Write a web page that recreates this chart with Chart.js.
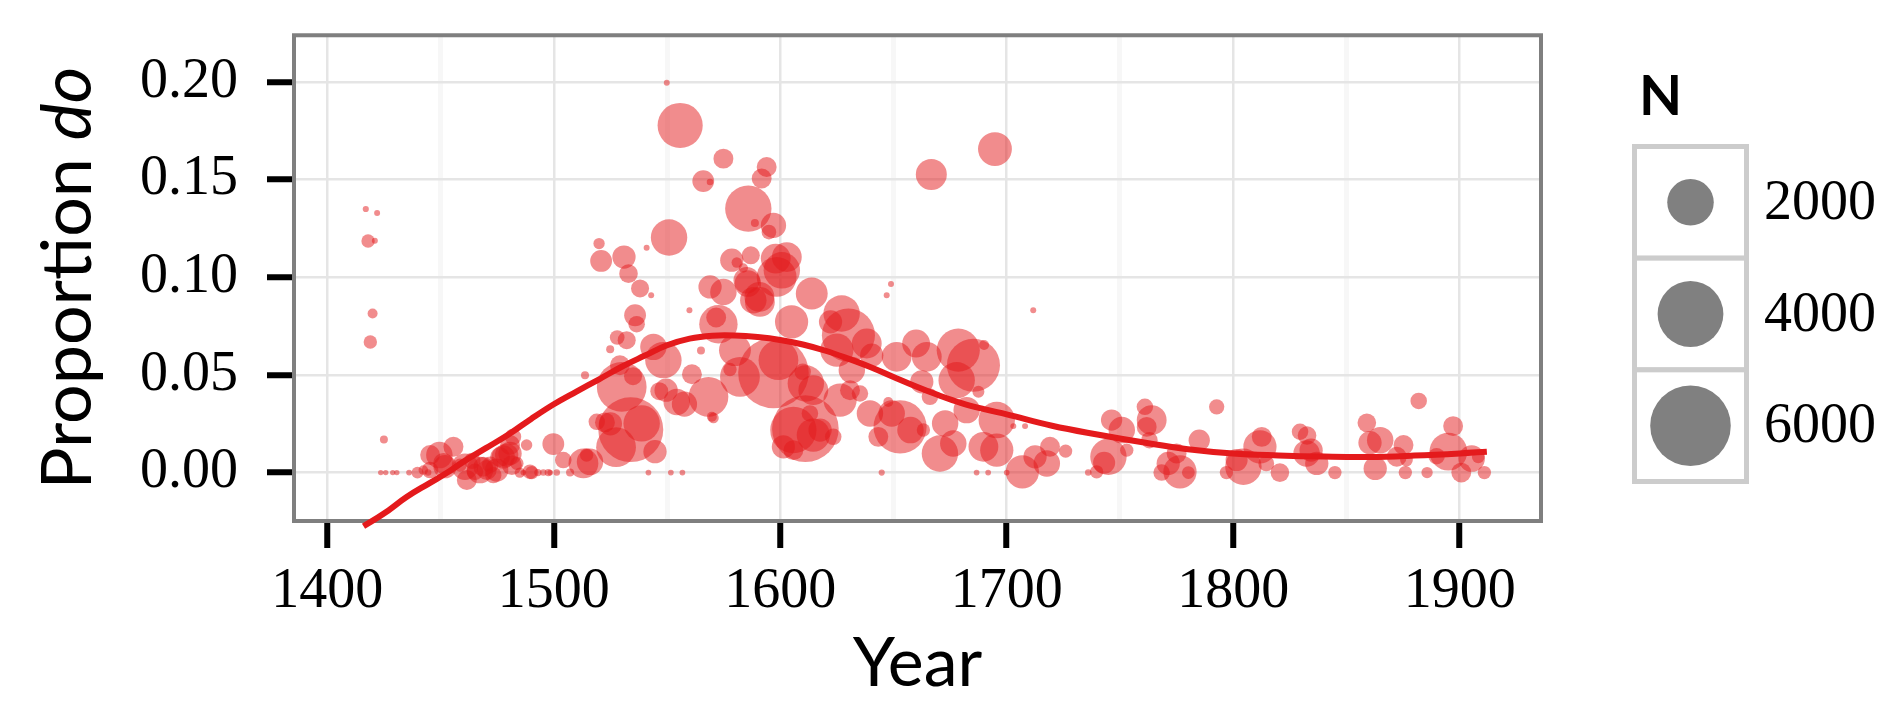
<!DOCTYPE html>
<html>
<head>
<meta charset="utf-8">
<script src="https://cdn.jsdelivr.net/npm/chart.js@4.4.1/dist/chart.umd.min.js"></script>
<style>
  html, body { margin: 0; padding: 0; background: #fff; }
  #wrap { width: 1887px; height: 701px; }
</style>
</head>
<body>
<div id="wrap"><canvas id="chart" width="1887" height="701"></canvas></div>
<script>
// --- data ---
// one entry per text: year, proportion of "do", number of tokens (N)
const years = [
  1417, 1422, 1418, 1421, 1420, 1419, 1425, 1423.6, 1425.8, 1428.9, 1430.7, 1436.1, 1439.8, 1442.4, 1444.5,
  1445.4, 1445.4, 1449.5, 1451.3, 1452, 1455.7, 1458.6, 1460.8, 1461.6, 1464, 1465.2, 1467.4, 1468.9, 1470.4,
  1472, 1473.3, 1474.8, 1476.3, 1477.7, 1479.2, 1480.7, 1480.7, 1481.5, 1482, 1483.7, 1485, 1486.6, 1488,
  1489.5, 1490.3, 1493, 1495.4, 1497.6, 1498.4, 1499.8, 1501.3, 1504.2, 1507.2, 1513.1, 1514.5, 1516,
  1513.8, 1519, 1522.6, 1520, 1520.9, 1524.9, 1527.5, 1525, 1528, 1529.2, 1530, 1531, 1532.2, 1533, 1534, 1535,
  1535.9, 1536.6, 1538.1, 1538.8, 1541, 1541.8, 1543, 1544, 1544.7, 1546.6, 1548.4, 1549.6, 1549.9, 1550.9,
  1551.7, 1554.3, 1555.8, 1556.8, 1557.7, 1559.9, 1561, 1565, 1566, 1568.3, 1569, 1569, 1569.8, 1570.5, 1571.7,
  1572.7, 1574.9, 1574.9, 1577.8, 1578.6, 1580, 1580.8, 1582.2, 1583.7, 1585.2, 1585.7, 1585.9, 1587, 1588.1,
  1588.8, 1590.8, 1591, 1591.8, 1594, 1595, 1597, 1597, 1598, 1598.4, 1599.2, 1600.7, 1601.4, 1602.9, 1605,
  1605.8, 1605.8, 1609.9, 1611.1, 1611.3, 1613.1, 1613.9, 1614.6, 1614.6, 1617.6, 1622.2, 1623.4, 1625, 1626.4,
  1627.1, 1630.1, 1630.8, 1631.6, 1635.2, 1638.2, 1639.6, 1640.4, 1643.3, 1644.8, 1647, 1647.7, 1648.9, 1649.2,
  1651.4, 1652.9, 1657.5, 1660, 1662.5, 1663.2, 1664.7, 1666.1, 1666.7, 1670.5, 1672.8, 1676.4, 1677.9, 1678.6,
  1682.3, 1685.3, 1686.7, 1687.5, 1689.7, 1690, 1691.8, 1694.8, 1695.6, 1695.6, 1700, 1702.9, 1706.9, 1708.1,
  1711.7, 1712.5, 1717.7, 1719.1, 1726, 1736, 1739.7, 1743, 1744.9, 1746.3, 1750.8, 1753, 1761, 1761.8, 1763,
  1764, 1768.4, 1771.3, 1775, 1776.5, 1780.2, 1785, 1792.7, 1797, 1801.5, 1804.5, 1811.8, 1812.6, 1814.6,
  1820.6, 1829.5, 1832.4, 1832.6, 1834.4, 1836.9, 1844.9, 1859, 1860.4, 1862.7, 1864.9, 1872.2, 1875.2, 1876,
  1876.5, 1881.9, 1885.6, 1889.8, 1895, 1897.1, 1900.7, 1905.3, 1908.2, 1910.9
];
const props = [
  0.135, 0.133, 0.1186, 0.1188, 0.0815, 0.0669, 0.017, 0, 0, 0, 0, 0, 0, 0.0013, 0,
  0.009, 0.0013, 0.009, 0.0047, 0.003, 0.0132, 0.0038, 0.003, -0.0038, 0.006, 0.0004, 0.0013, 0.003, 0.0013,
  0.004, -0.0013, 0.0013, 0.008, 0.008, 0.009, 0.0141, 0.0098, 0.0038, 0.0183, 0.0047, 0, 0, 0.0141,
  0.0004, 0, 0, 0, 0, 0, 0.0146, 0, 0.0064, 0, 0.0047, 0.009, 0.0055,
  0.0499, 0.026, 0.0257, 0.1173, 0.1084, 0.0632, 0.013, 0.025, 0.0692, 0.055, 0.0439, 0.1104, 0.0678, 0.1019, 0.022, 0.0494,
  0.0806, 0.076, 0.0943, 0.0252, 0.1152, 0, 0.0908, 0.0644, 0.0107, 0.0417, 0.0576, 0.0422, 0.1997, 0.1204,
  0, 0.0362, 0.1778, 0, 0.0351, 0.0832, 0.0504, 0.0625, 0.1493, 0.0388, 0.1488, 0.0951, 0.0286, 0.028, 0.0794,
  0.076, 0.1608, 0.0925, 0.0528, 0.1088, 0.0627, 0.1076, 0.049, 0.1048, 0.0985, 0.0968, 0.1352, 0.1113, 0.0883,
  0.1278, 0.09, 0.0874, 0.1506, 0.1565, 0.1232, 0.051, 0.1266, 0.1096, 0.1002, 0.0576, 0.1036, 0.0132, 0.1104, 0.0772,
  0.0218, 0.0115, 0.0516, 0.0225, 0.0456, 0.0303, 0.0917, 0.0422, 0.0192, 0.0218, 0.0772, 0.0183, 0.0627, 0.0371,
  0.0815, 0.0704, 0.0422, 0.0525, 0.0405, 0.0661, 0.0303, 0.0601, 0.0183, 0, 0.0908, 0.0362, 0.0966, 0.0303,
  0.0593, 0.0234, 0.0218, 0.0661, 0.0465, 0.0218, 0.0593, 0.0388, 0.1527, 0.0098, 0.0252, 0.0149, 0.0473, 0.0627,
  0.032, 0.055, 0, 0.0414, 0.0132, 0.0653, 0, 0.1657, 0.0269, 0.0115, 0, 0.0238, 0.0004, 0.0238,
  0.0832, 0.0081, 0.0047, 0.0132, 0.011, 0, 0.0004, 0.005, 0.0081, 0.0269, 0.0218, 0.0115, 0.0337, 0.0234, 0.0166,
  0.0269, 0, 0.0047, 0.0098, 0.0004, 0, 0.0166, 0.0337, 0, 0.0064, 0.003, 0.0132, 0.0183, 0.0047,
  0, 0.0209, 0.0098, 0.019, 0.0115, 0.0047, 0, 0.0255, 0.0153, 0.0021, 0.0166, 0.0081, 0.0141, 0,
  0.0064, 0.0367, 0, 0.0084, 0.0107, 0.0238, 0, 0.0072, 0.0081, 0
];
const counts = [
  35, 33, 165, 33, 92, 165, 59, 27, 27, 27, 27, 30, 130, 85, 40,
  366, 252, 650, 400, 500, 370, 160, 650, 370, 250, 252, 650, 366, 366,
  250, 250, 500, 366, 500, 500, 366, 500, 366, 250, 164, 100, 30, 120,
  200, 164, 50, 40, 50, 30, 440, 40, 252, 60, 823, 165, 647,
  59, 252, 366, 118, 440, 59, 1462, 500, 200, 366, 2285, 500, 300, 320, 3900, 300,
  440, 252, 300, 1225, 33, 30, 33, 647, 500, 300, 1225, 500, 33, 1225,
  30, 647, 1884, 30, 590, 33, 366, 59, 440, 1462, 40, 500, 92, 105, 366,
  1360, 366, 647, 164, 500, 940, 100, 1462, 80, 647, 647, 1985, 300, 647,
  59, 823, 823, 366, 366, 200, 4600, 590, 823, 1462, 1462, 1225, 500, 823, 1020,
  1985, 366, 252, 4100, 1225, 252, 940, 823, 1020, 500, 500, 252, 1020, 1020,
  1225, 2606, 366, 647, 250, 823, 647, 500, 366, 35, 33, 92, 33, 647,
  823, 2606, 647, 720, 500, 164, 823, 252, 890, 1225, 647, 647, 1225, 1720,
  647, 2606, 30, 132, 823, 92, 30, 1060, 1225, 1020, 30, 33, 1020, 33,
  33, 500, 647, 366, 164, 40, 164, 450, 1225, 420, 647, 164, 252, 366, 252,
  823, 252, 500, 366, 1020, 150, 420, 216, 164, 450, 1225, 1020, 366, 230,
  320, 252, 647, 320, 500, 500, 164, 320, 500, 500, 647, 366, 366, 164,
  150, 252, 118, 252, 1320, 366, 366, 647, 150, 164
];

// loess curve as drawn in the picture
const smoothYears = [1416, 1425, 1435, 1445, 1453, 1460, 1470, 1480, 1490, 1500, 1510, 1520, 1530, 1540, 1550,
  1560, 1570, 1580, 1590, 1600, 1610, 1620, 1630, 1640, 1650, 1660, 1670, 1680, 1690, 1700, 1720, 1740, 1760,
  1780, 1800, 1820, 1840, 1860, 1880, 1900, 1912];
const smoothProps = [-0.0275, -0.021, -0.0125, -0.0055, 0, 0.0055, 0.0125, 0.0195, 0.0275, 0.035, 0.0415, 0.0478,
  0.0542, 0.0598, 0.0652, 0.0686, 0.0701, 0.0702, 0.0694, 0.0679, 0.0656, 0.0624, 0.0584, 0.0540, 0.0490, 0.0441,
  0.0396, 0.0356, 0.0325, 0.0298, 0.024, 0.0195, 0.0155, 0.012, 0.0098, 0.0088, 0.0082, 0.008, 0.0087, 0.0098, 0.0107];

// axes
const xMajor = [1400, 1500, 1600, 1700, 1800, 1900];
const xMinor = [1450, 1550, 1650, 1750, 1850];
const yMajor = [0, 0.05, 0.10, 0.15, 0.20];
const yMinor = [0.025, 0.075, 0.125, 0.175];
const legendN = [2000, 4000, 6000];

// size scale (area ~ N)
const sizeK = 0.52;
function radiusFor(n) { return sizeK * Math.sqrt(n); }

const RED = '#e41a1c';
const SERIF = "'Liberation Serif', 'DejaVu Serif', serif";
const SANS = "Lato, 'Open Sans', sans-serif";

function isMajor(list, v) { return list.some(m => Math.abs(m - v) < 1e-9); }

// panel border drawn like ggplot theme_bw
const panelBorder = {
  id: 'panelBorder',
  beforeDatasetsDraw(chart) {
    const { ctx, chartArea: a } = chart;
    ctx.save();
    ctx.strokeStyle = '#7f7f7f';
    ctx.lineWidth = 4;
    ctx.strokeRect(a.left, a.top, a.right - a.left, a.bottom - a.top);
    ctx.restore();
  }
};

// axis titles (y title has italic "do")
const axisTitles = {
  id: 'axisTitles',
  afterDraw(chart) {
    const { ctx, chartArea: a } = chart;
    ctx.save();
    ctx.fillStyle = '#000';
    ctx.textBaseline = 'alphabetic';
    ctx.textAlign = 'center';
    ctx.font = '68px ' + SANS;
    ctx.fillText('Year', (a.left + a.right) / 2, 686);

    const part1 = 'Proportion ';
    const part2 = 'do';
    const f1 = '70px ' + SANS;
    const f2 = 'italic 70px ' + SANS;
    ctx.font = f1;
    const w1 = ctx.measureText(part1).width;
    ctx.font = f2;
    const w2 = ctx.measureText(part2).width;
    ctx.translate(91, (a.top + a.bottom) / 2);
    ctx.rotate(-Math.PI / 2);
    ctx.textAlign = 'left';
    const start = -(w1 + w2) / 2;
    ctx.font = f1;
    ctx.fillText(part1, start, 0);
    ctx.font = f2;
    ctx.fillText(part2, start + w1, 0);
    ctx.restore();
  }
};

// size legend "N"
const sizeLegend = {
  id: 'sizeLegend',
  afterDraw(chart) {
    const ctx = chart.ctx;
    ctx.save();
    ctx.fillStyle = '#000';
    ctx.font = 'bold 56px ' + SANS;
    ctx.textAlign = 'left';
    ctx.textBaseline = 'alphabetic';
    ctx.fillText('N', 1639, 115);

    const left = 1634.5, top = 146.5, w = 112, h = (340 - 5) / 3;
    legendN.forEach((n, i) => {
      const y0 = top + i * h;
      ctx.fillStyle = '#fff';
      ctx.fillRect(left, y0, w, h);
      ctx.strokeStyle = '#cccccc';
      ctx.lineWidth = 5;
      ctx.strokeRect(left, y0, w, h);
      ctx.fillStyle = '#808080';
      ctx.beginPath();
      ctx.arc(left + w / 2, y0 + h / 2, radiusFor(n), 0, Math.PI * 2);
      ctx.fill();
      ctx.fillStyle = '#000';
      ctx.font = '56px ' + SERIF;
      ctx.textBaseline = 'middle';
      ctx.fillText(String(n), 1764, y0 + h / 2 + 2);
    });
    ctx.restore();
  }
};

const points = years.map((x, i) => ({ x: x, y: props[i], r: radiusFor(counts[i]) }));
const curve = smoothYears.map((x, i) => ({ x: x, y: smoothProps[i] }));

new Chart(document.getElementById('chart'), {
  type: 'bubble',
  data: {
    datasets: [
      {
        type: 'line',
        label: 'loess',
        data: curve,
        borderColor: RED,
        borderWidth: 6,
        pointRadius: 0,
        fill: false,
        tension: 0.4,
        clip: false,
        order: 0
      },
      {
        label: 'texts',
        data: points,
        backgroundColor: 'rgba(228, 26, 28, 0.5)',
        borderWidth: 0,
        hoverRadius: 0,
        order: 1
      }
    ]
  },
  options: {
    responsive: false,
    devicePixelRatio: 1,
    animation: false,
    layout: { padding: { left: 0, top: 35, right: 346, bottom: 0 } },
    plugins: { legend: { display: false }, tooltip: { enabled: false } },
    scales: {
      x: {
        type: 'linear',
        min: 1385.3,
        max: 1935.9,
        afterBuildTicks: s => { s.ticks = xMajor.concat(xMinor).sort((p, q) => p - q).map(v => ({ value: v })); },
        afterFit: s => { s.height = 180; s.paddingLeft = 0; s.paddingRight = 0; },
        border: { display: false },
        grid: {
          color: c => (c.tick && isMajor(xMajor, c.tick.value)) ? '#e5e5e5' : '#f7f7f7',
          lineWidth: c => (c.tick && isMajor(xMajor, c.tick.value)) ? 2.5 : 5,
          tickColor: c => (c.tick && isMajor(xMajor, c.tick.value)) ? '#000' : 'rgba(0,0,0,0)',
          tickWidth: 6,
          tickLength: 27,
          drawTicks: true
        },
        ticks: {
          autoSkip: false,
          maxRotation: 0,
          padding: 11,
          color: '#000',
          font: { family: SERIF, size: 56 },
          callback: v => isMajor(xMajor, v) ? String(v) : ''
        }
      },
      y: {
        type: 'linear',
        min: -0.0248,
        max: 0.224,
        afterBuildTicks: s => { s.ticks = yMajor.concat(yMinor).sort((p, q) => p - q).map(v => ({ value: v })); },
        afterFit: s => { s.width = 294; s.paddingTop = 0; s.paddingBottom = 0; },
        border: { display: false },
        grid: {
          color: c => (c.tick && isMajor(yMajor, c.tick.value)) ? '#e5e5e5' : '#f7f7f7',
          lineWidth: c => (c.tick && isMajor(yMajor, c.tick.value)) ? 2.5 : 5,
          tickColor: c => (c.tick && isMajor(yMajor, c.tick.value)) ? '#000' : 'rgba(0,0,0,0)',
          tickWidth: 6,
          tickLength: 27,
          drawTicks: true
        },
        ticks: {
          padding: 29,
          color: '#000',
          font: { family: SERIF, size: 56 },
          callback: v => isMajor(yMajor, v) ? v.toFixed(2) : ''
        }
      }
    }
  },
  plugins: [panelBorder, axisTitles, sizeLegend]
});
</script>
</body>
</html>
